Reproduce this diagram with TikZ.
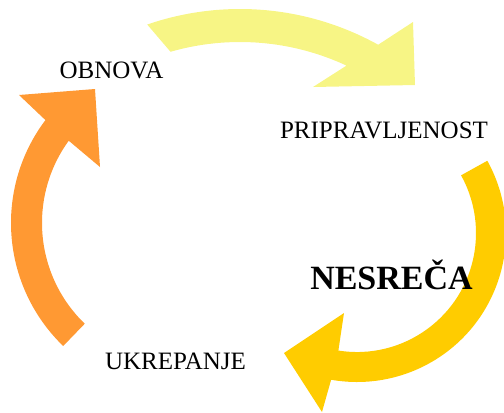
\documentclass[tikz,border=0pt]{standalone}
\usepackage{fontspec}
\setmainfont{Liberation Serif}
\definecolor{myyellow}{RGB}{247,245,133}
\definecolor{myorange}{RGB}{255,153,51}
\definecolor{mygold}{RGB}{255,204,0}

\begin{document}
\begin{tikzpicture}[x=0.75pt, y=-0.75pt,
    phase/.style={anchor=base, color=black, font=\fontsize{18.75}{22}\selectfont}]
    \useasboundingbox (0,0) rectangle (504,412);
    % Arrows
    % Obnova to pripravljenost
    \fill[myyellow] ([shift={(240,294)}]251:285) arc[start angle=251, end angle=299, radius=285]
        -- (413,22) -- (415,85) -- (313,87)
        -- ([shift={(240,294)}]295:252) arc[start angle=295, end angle=254, radius=252] -- cycle;
    % Pripravljenost to ukrepanje
    \fill[mygold] ([shift={(357,233)}]-29:149) arc[start angle=-29, end angle=100, radius=149]
        -- (322,412) -- (284,353) -- (344,313)
        -- ([shift={(357,233)}]99:119) arc[start angle=99, end angle=-29, radius=119] -- cycle;
    % Ukrepanje to obnova
    \fill[myorange] ([shift={(182,223)}]134:171) arc[start angle=134, end angle=217, radius=171]
        -- (19,95) -- (95,89) -- (100,167)
        -- ([shift={(182,223)}]216:140) arc[start angle=216, end angle=134, radius=140] -- cycle;
    % Phases
    \node[phase] (obnova) at (111.5,78) {OBNOVA};
    \node[phase] (pripravljenost) at (384,138) {PRIPRAVLJENOST};
    \node[phase] (ukrepanje) at (175.5,369) {UKREPANJE};
    % Disaster
    \node[phase, font=\bfseries\fontsize{25.5}{30}\selectfont] (nesreca) at (391.5,289) {NESREČA};
\end{tikzpicture}
\end{document}
